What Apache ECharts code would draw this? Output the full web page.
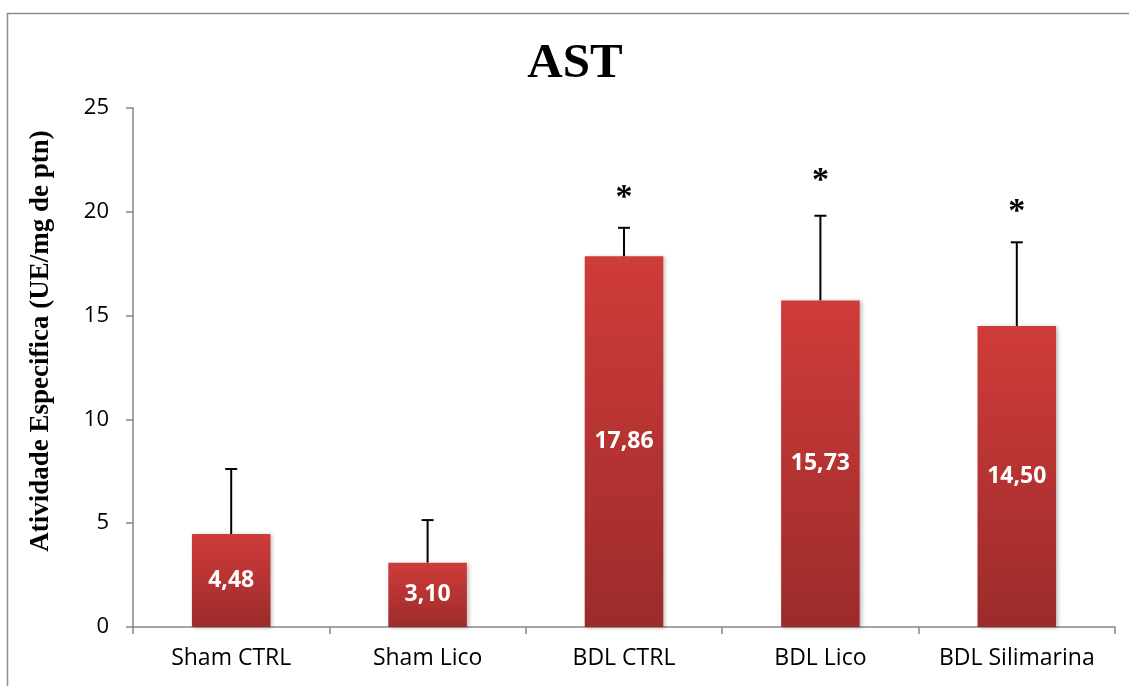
<!DOCTYPE html>
<html>
<head>
<meta charset="utf-8">
<script src="https://cdn.jsdelivr.net/npm/echarts@6/dist/echarts.min.js"></script>
<style>
html,body{margin:0;padding:0;background:#fff;}
#chart{width:1129px;height:686px;}
</style>
</head>
<body>
<div id="chart"></div>
<script>
var categories = ['Sham CTRL', 'Sham Lico', 'BDL CTRL', 'BDL Lico', 'BDL Silimarina'];
var means = [4.48, 3.10, 17.86, 15.73, 14.50];
var errors = [3.13, 2.05, 1.37, 4.08, 4.03];
var asteriskY = [null, null, 20.65, 21.45, 20.0];
var yTicks = [0, 5, 10, 15, 20, 25];

var chart = echarts.init(document.getElementById('chart'));

var errData = means.map(function (m, i) { return [i, m, m + errors[i]]; });
var starData = [];
asteriskY.forEach(function (v, i) { if (v !== null) starData.push([i, v]); });

var option = {
  animation: false,
  backgroundColor: '#fff',
  title: {
    text: 'AST',
    left: 570,
    top: 35,
    textAlign: 'center',
    textStyle: { fontFamily: 'Liberation Serif', fontWeight: 'bold', fontSize: 49, color: '#000' }
  },
  graphic: [
    { type: 'rect', shape: { x: 7.5, y: 13.5, width: 1140, height: 700 },
      style: { fill: 'none', stroke: '#8c8c8c', lineWidth: 1.5 }, silent: true },
    { type: 'text', x: 41.5, y: 341, rotation: Math.PI / 2,
      style: { text: 'Atividade Especifica (UE/mg de ptn)', fontFamily: 'Liberation Serif', fontWeight: 'bold',
        fontSize: 27, fill: '#000', align: 'center', verticalAlign: 'middle' } }
  ],
  grid: { left: 133, right: 14, top: 108, bottom: 59, containLabel: false },
  xAxis: {
    type: 'category',
    data: categories,
    boundaryGap: true,
    axisLine: { lineStyle: { color: '#868686', width: 1.5 } },
    axisTick: { show: true, length: 7, lineStyle: { color: '#868686', width: 1.5 } },
    axisLabel: { fontFamily: 'Open Sans', fontSize: 23, color: '#000', margin: 20, interval: 0 }
  },
  yAxis: {
    type: 'value',
    min: yTicks[0],
    max: yTicks[yTicks.length - 1],
    interval: 5,
    splitLine: { show: false },
    axisLine: { show: true, lineStyle: { color: '#868686', width: 1.5 } },
    axisTick: { show: true, length: 7, lineStyle: { color: '#868686', width: 1.5 } },
    axisLabel: { fontFamily: 'Open Sans', fontSize: 22, color: '#000', margin: 24 }
  },
  series: [
    {
      type: 'bar',
      data: means,
      barWidth: '40%',
      itemStyle: {
        color: new echarts.graphic.LinearGradient(0, 0, 0, 1, [
          { offset: 0, color: '#cf3c3a' },
          { offset: 1, color: '#9c2b2b' }
        ]),
        shadowColor: 'rgba(0,0,0,0.25)',
        shadowBlur: 4,
        shadowOffsetX: 2,
        shadowOffsetY: 1
      },
      label: {
        show: true,
        position: 'inside',
        formatter: function (p) { return p.value.toFixed(2).replace('.', ','); },
        fontFamily: 'Open Sans',
        fontWeight: 'bold',
        fontSize: 23,
        color: '#fff'
      },
      z: 2
    },
    {
      type: 'custom',
      data: errData,
      z: 3,
      renderItem: function (params, api) {
        var x = api.value(0);
        var base = api.coord([x, api.value(1)]);
        var top = api.coord([x, api.value(2)]);
        var half = 6;
        return {
          type: 'group',
          children: [
            { type: 'line', shape: { x1: base[0], y1: base[1], x2: top[0], y2: top[1] },
              style: { stroke: '#000', lineWidth: 2 } },
            { type: 'line', shape: { x1: top[0] - half, y1: top[1], x2: top[0] + half, y2: top[1] },
              style: { stroke: '#000', lineWidth: 2 } }
          ]
        };
      }
    },
    {
      type: 'custom',
      data: starData,
      z: 3,
      renderItem: function (params, api) {
        var p = api.coord([api.value(0), api.value(1)]);
        return {
          type: 'text',
          x: p[0],
          y: p[1],
          style: { text: '*', fontFamily: 'Liberation Serif', fontWeight: 'bold', fontSize: 34,
            fill: '#000', align: 'center', verticalAlign: 'middle' }
        };
      }
    }
  ]
};
chart.setOption(option);
</script>
</body>
</html>
